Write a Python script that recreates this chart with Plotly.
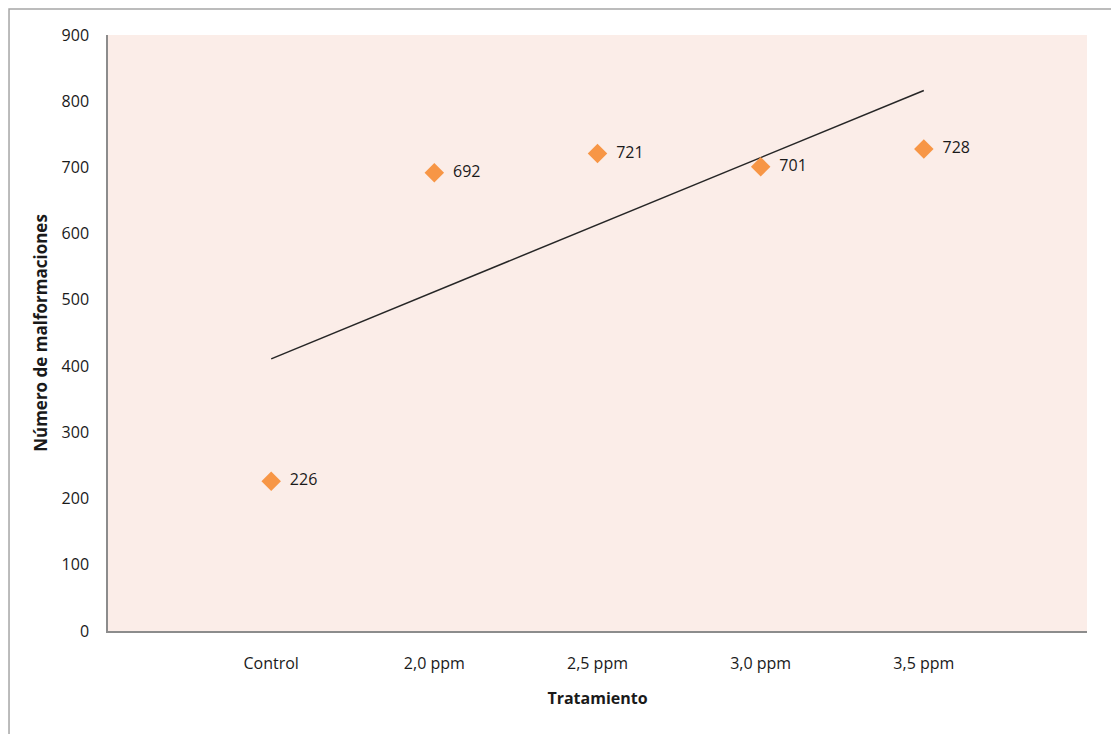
import numpy as np
import plotly.graph_objects as go

# Treatments and counted malformations
categories = ["Control", "2,0 ppm", "2,5 ppm", "3,0 ppm", "3,5 ppm"]
malformations = [226, 692, 721, 701, 728]
y_ticks = [0, 100, 200, 300, 400, 500, 600, 700, 800, 900]

x_pos = np.arange(1, len(categories) + 1)

# Linear trend fitted to the counts
slope, intercept = np.polyfit(x_pos, malformations, 1)
trend_x = [x_pos[0], x_pos[-1]]
trend_y = [slope * x + intercept for x in trend_x]

FONT = "Open Sans, Liberation Sans, sans-serif"

fig = go.Figure()

fig.add_trace(go.Scatter(
    x=trend_x, y=trend_y, mode="lines",
    line=dict(color="#262626", width=1.5),
    showlegend=False, hoverinfo="skip",
))

fig.add_trace(go.Scatter(
    x=x_pos, y=malformations, mode="markers+text",
    marker=dict(symbol="diamond", size=15, color="#F79646"),
    text=[f"  {v}" for v in malformations],
    textposition="middle right",
    textfont=dict(family=FONT, size=16, color="#1a1a1a"),
    showlegend=False, cliponaxis=False,
))

fig.update_layout(
    width=1111, height=734,
    margin=dict(l=108, r=24, t=35, b=103),
    paper_bgcolor="white",
    plot_bgcolor="#FBEDE8",
    font=dict(family=FONT, size=16, color="#1a1a1a"),
    xaxis=dict(
        range=[0, 6], tickmode="array", tickvals=list(x_pos), ticktext=categories,
        showgrid=False, zeroline=False,
        showline=True, linecolor="#8c8c8c", linewidth=1.5,
        ticks="outside", ticklen=17, tickcolor="rgba(0,0,0,0)",
        tickfont=dict(size=16),
        title=dict(text="<b>Tratamiento</b>", font=dict(size=16), standoff=20),
    ),
    yaxis=dict(
        range=[0, 900], tickmode="array", tickvals=y_ticks,
        showgrid=False, zeroline=False,
        showline=True, linecolor="#8c8c8c", linewidth=1.5,
        ticks="outside", ticklen=14, tickcolor="rgba(0,0,0,0)",
        tickfont=dict(size=16),
        title=dict(text="<b>Número de malformaciones</b>", font=dict(size=17), standoff=10),
    ),
    shapes=[dict(
        type="rect", xref="paper", yref="paper",
        x0=-0.1011, x1=1.2, y0=-0.3, y1=1.0436,
        line=dict(color="#a6a6a6", width=1.5), fillcolor="rgba(0,0,0,0)",
        layer="below",
    )],
)

fig.write_html("out.html")
